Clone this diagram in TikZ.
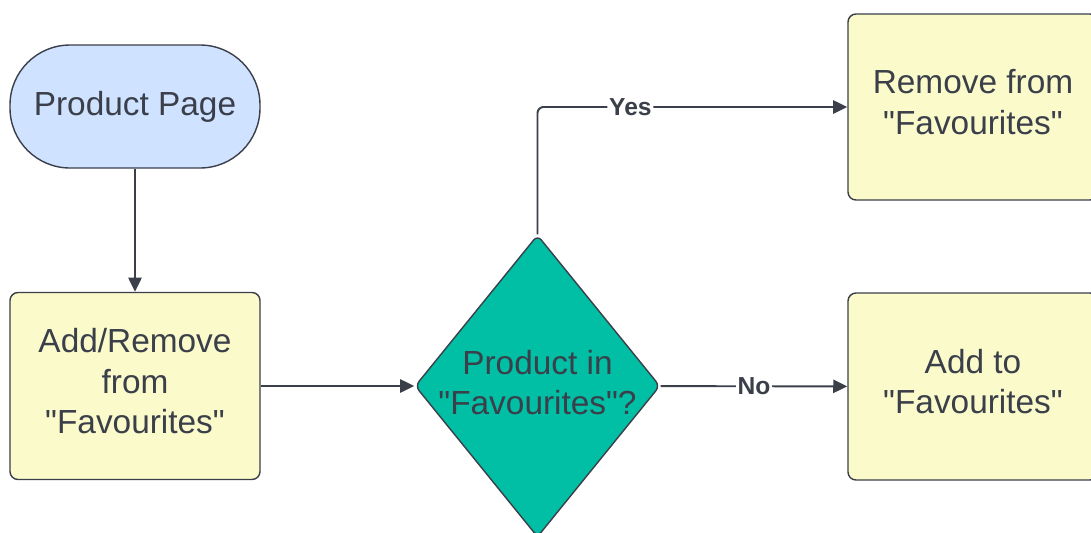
\documentclass[tikz,border=0pt]{standalone}
\usepackage{fontspec}
\setmainfont{Liberation Sans}[Ligatures=TeXOff]
\usetikzlibrary{arrows.meta,shapes.geometric}

\definecolor{ink}{RGB}{58,63,74}
\definecolor{pageblue}{RGB}{207,226,255}
\definecolor{boxyellow}{RGB}{250,250,202}
\definecolor{checkteal}{RGB}{0,191,165}

\begin{document}
\begin{tikzpicture}
	\tikzstyle{every node}=[text=ink,font=\fontsize{19}{23}\selectfont]
	\tikzstyle{terminal}=[rectangle,draw=ink,line width=0.8pt,fill=pageblue,minimum width=5cm,minimum height=2.46cm,rounded corners=1.2cm,align=center]
	\tikzstyle{process}=[rectangle,draw=ink,line width=0.8pt,fill=boxyellow,minimum width=5cm,minimum height=3.74cm,rounded corners=0.16cm,align=center,text depth=0.2cm]
	\tikzstyle{decision}=[diamond,draw=ink,line width=0.8pt,fill=checkteal,minimum width=4.9cm,minimum height=6.04cm,inner sep=0pt,rounded corners=0.12cm]
	\tikzstyle{link}=[draw=ink,line width=1.1pt,-{Triangle[length=8pt,width=7.5pt]}]
	\tikzstyle{answer}=[fill=white,inner sep=1pt,font=\fontsize{14}{16}\selectfont\bfseries]
	\useasboundingbox (0,0) rectangle (21.82,-10.64);
	\node[terminal] (page) at (2.70,-2.13) {Product Page};
	\node[process] (addrem) at (2.70,-7.72) {Add/Remove\\from\\"Favourites"};
	\node[decision] (check) at (10.75,-7.72) [label={[align=center,yshift=2pt]center:Product in\\"Favourites"?}] {};
	\node[process,minimum height=3.72cm] (remove) at (19.46,-2.14) {Remove from\\"Favourites"};
	\node[process] (addto) at (19.46,-7.73) {Add to\\"Favourites"};
	\draw[link] (page) -- (addrem);
	\draw[link] (addrem) -- (check);
	\draw[link,rounded corners=0.12cm] (check.north) |- node[answer,pos=0.65] {Yes} (remove.west);
	\draw[link] (check) -- node[answer] {No} (addto);
\end{tikzpicture}
\end{document}
